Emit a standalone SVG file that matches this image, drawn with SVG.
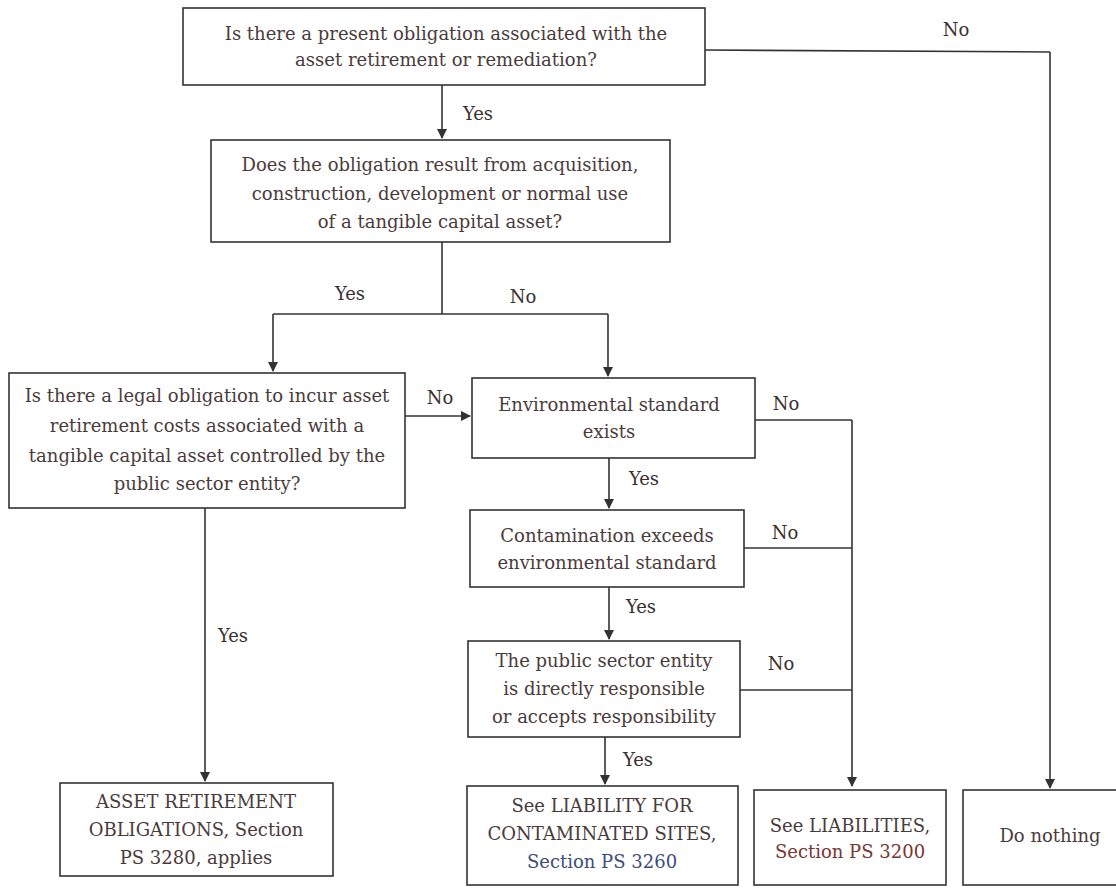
<svg xmlns="http://www.w3.org/2000/svg" width="1116" height="889" viewBox="0 0 1116 889" font-family="DejaVu Serif, Liberation Serif, serif">
<defs>
<marker id="ah" markerWidth="10" markerHeight="12" refX="9" refY="5" orient="auto" markerUnits="userSpaceOnUse" viewBox="0 0 10 10">
<path d="M0,0 L10,5 L0,10 Z" fill="#333"/>
</marker>
<style>
.box{fill:#fff;stroke:#333;stroke-width:1.6}
.t{font-size:18px;fill:#4a3b3b;text-anchor:middle}
.lbl{font-size:18px;fill:#3a3030;text-anchor:middle}
.ln{fill:none;stroke:#333;stroke-width:1.6}
.arr{fill:none;stroke:#333;stroke-width:1.6;marker-end:url(#ah)}
.blue{fill:#3d4d7a}
.red{fill:#7a3535}
</style>
</defs>
<rect width="1116" height="889" fill="#fff"/>
<g id="connectors">
<path class="arr" d="M442,85 V138"/>
<path class="ln" d="M442,242 V314"/>
<path class="ln" d="M273,314 H608"/>
<path class="arr" d="M273,314 V371"/>
<path class="arr" d="M608,314 V376"/>
<path class="arr" d="M405,416 H470"/>
<path class="ln" d="M755,420 H852"/>
<path class="arr" d="M852,420 V786"/>
<path class="ln" d="M744,548 H852"/>
<path class="ln" d="M740,690 H852"/>
<path class="arr" d="M609,458 V508"/>
<path class="arr" d="M609,587 V639"/>
<path class="arr" d="M605,737 V784"/>
<path class="arr" d="M205,508 V781"/>
<path class="ln" d="M705,50 L1050,52"/>
<path class="arr" d="M1050,52 V788"/>
<text class="lbl" x="478" y="120">Yes</text>
<text class="lbl" x="350" y="300">Yes</text>
<text class="lbl" x="523" y="303">No</text>
<text class="lbl" x="440" y="404">No</text>
<text class="lbl" x="786" y="410">No</text>
<text class="lbl" x="644" y="485">Yes</text>
<text class="lbl" x="785" y="539">No</text>
<text class="lbl" x="641" y="613">Yes</text>
<text class="lbl" x="781" y="670">No</text>
<text class="lbl" x="638" y="766">Yes</text>
<text class="lbl" x="233" y="642">Yes</text>
<text class="lbl" x="956" y="36">No</text>
</g>
<g id="n1">
<rect class="box" x="183" y="8" width="522" height="77"/>
<text class="t" x="446" y="40">Is there a present obligation associated with the</text>
<text class="t" x="446" y="66">asset retirement or remediation?</text>
</g>
<g id="n2">
<rect class="box" x="211" y="140" width="459" height="102"/>
<text class="t" x="440" y="171">Does the obligation result from acquisition,</text>
<text class="t" x="440" y="200">construction, development or normal use</text>
<text class="t" x="440" y="228">of a tangible capital asset?</text>
</g>
<g id="n3">
<rect class="box" x="9" y="373" width="396" height="135"/>
<text class="t" x="207" y="402">Is there a legal obligation to incur asset</text>
<text class="t" x="207" y="432">retirement costs associated with a</text>
<text class="t" x="207" y="462">tangible capital asset controlled by the</text>
<text class="t" x="207" y="490">public sector entity?</text>
</g>
<g id="n4">
<rect class="box" x="472" y="378" width="283" height="80"/>
<text class="t" x="609" y="411">Environmental standard</text>
<text class="t" x="609" y="438">exists</text>
</g>
<g id="n5">
<rect class="box" x="470" y="510" width="274" height="77"/>
<text class="t" x="607" y="542">Contamination exceeds</text>
<text class="t" x="607" y="569">environmental standard</text>
</g>
<g id="n6">
<rect class="box" x="468" y="641" width="272" height="96"/>
<text class="t" x="604" y="667">The public sector entity</text>
<text class="t" x="604" y="695">is directly responsible</text>
<text class="t" x="604" y="723">or accepts responsibility</text>
</g>
<g id="n7">
<rect class="box" x="60" y="783" width="273" height="93"/>
<text class="t" x="196" y="808">ASSET RETIREMENT</text>
<text class="t" x="196" y="836">OBLIGATIONS, Section</text>
<text class="t" x="196" y="864">PS 3280, applies</text>
</g>
<g id="n8">
<rect class="box" x="467" y="786" width="271" height="99"/>
<text class="t" x="602" y="812">See LIABILITY FOR</text>
<text class="t" x="602" y="840">CONTAMINATED SITES,</text>
<text class="t blue" x="602" y="868">Section PS 3260</text>
</g>
<g id="n9">
<rect class="box" x="754" y="790" width="192" height="95"/>
<text class="t" x="850" y="832">See LIABILITIES,</text>
<text class="t red" x="850" y="858">Section PS 3200</text>
</g>
<g id="n10">
<rect class="box" x="963" y="790" width="160" height="95"/>
<text class="t" x="1050" y="842">Do nothing</text>
</g>
</svg>
